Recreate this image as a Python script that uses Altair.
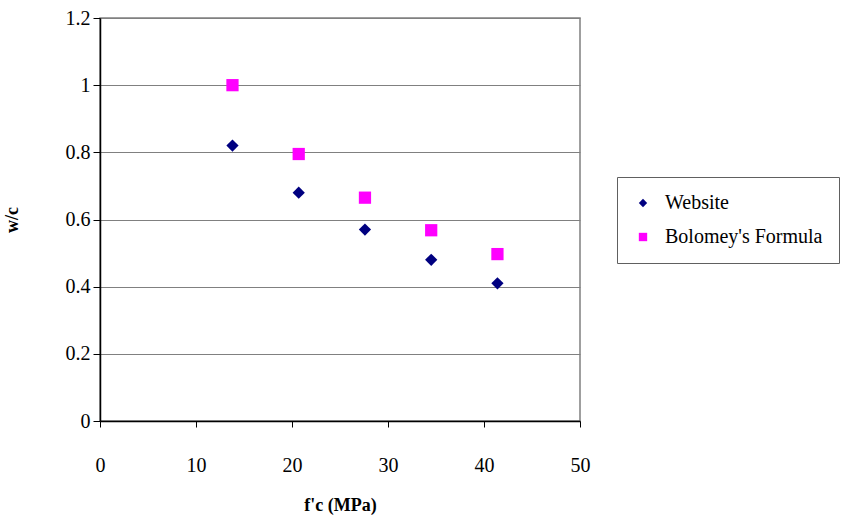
import altair as alt
import pandas as pd

x_vals = [13.8, 20.7, 27.6, 34.5, 41.4]
website = [0.82, 0.68, 0.57, 0.48, 0.41]
bolomey = [1.0, 0.795, 0.665, 0.568, 0.497]
series_names = ["Website", "Bolomey's Formula"]

df = pd.DataFrame(
    [{"x": x, "y": y, "s": series_names[0]} for x, y in zip(x_vals, website)]
    + [{"x": x, "y": y, "s": series_names[1]} for x, y in zip(x_vals, bolomey)]
)

FONT = "'Liberation Serif', 'DejaVu Serif', serif"

chart = alt.Chart(df).mark_point(filled=True, opacity=1, size=150).encode(
    x=alt.X("x:Q", scale=alt.Scale(domain=[0, 50], nice=False),
            axis=alt.Axis(values=[0, 10, 20, 30, 40, 50], title="f'c  (MPa)",
                          grid=False, domainColor="#000000", domainWidth=1.5,
                          tickColor="#000000", tickSize=6, labelPadding=28,
                          titlePadding=21, format="d", labelFlush=False,
                          titleFont=FONT, labelFont=FONT)),
    y=alt.Y("y:Q", scale=alt.Scale(domain=[0, 1.2], nice=False),
            axis=alt.Axis(values=[0, 0.2, 0.4, 0.6, 0.8, 1.0, 1.2], title="w/c",
                          grid=True, gridColor="#808080", domainColor="#000000",
                          domainWidth=1.5, tickColor="#000000", tickSize=7,
                          labelPadding=3, titlePadding=44, format="~g",
                          labelFlush=False, titleFont=FONT, labelFont=FONT)),
    color=alt.Color("s:N", scale=alt.Scale(domain=series_names, range=["#000080", "#FF00FF"]),
                    legend=alt.Legend(title=None)),
    shape=alt.Shape("s:N", scale=alt.Scale(domain=series_names, range=["diamond", "square"]),
                    legend=alt.Legend(title=None)),
).properties(
    width=480, height=403,
    padding={"left": 100, "top": 18, "right": 276, "bottom": 102},
    autosize=alt.AutoSizeParams(type="none"),
    background="#ffffff",
).configure_view(
    stroke="#808080", strokeWidth=1.5
).configure_axis(
    labelFont=FONT, titleFont=FONT, labelFontSize=20, titleFontSize=18,
    labelColor="#000000", titleColor="#000000", titleFontWeight="bold",
).configure_legend(
    orient="none", legendX=517, legendY=159, strokeColor="#606060",
    fillColor="#ffffff", padding=16, labelFont=FONT, labelFontSize=20,
    labelColor="#000000", symbolSize=70, rowPadding=14, symbolOpacity=1,
    labelOffset=12,
)

chart.save("out.html", embed_options={"renderer": "svg", "actions": False})
